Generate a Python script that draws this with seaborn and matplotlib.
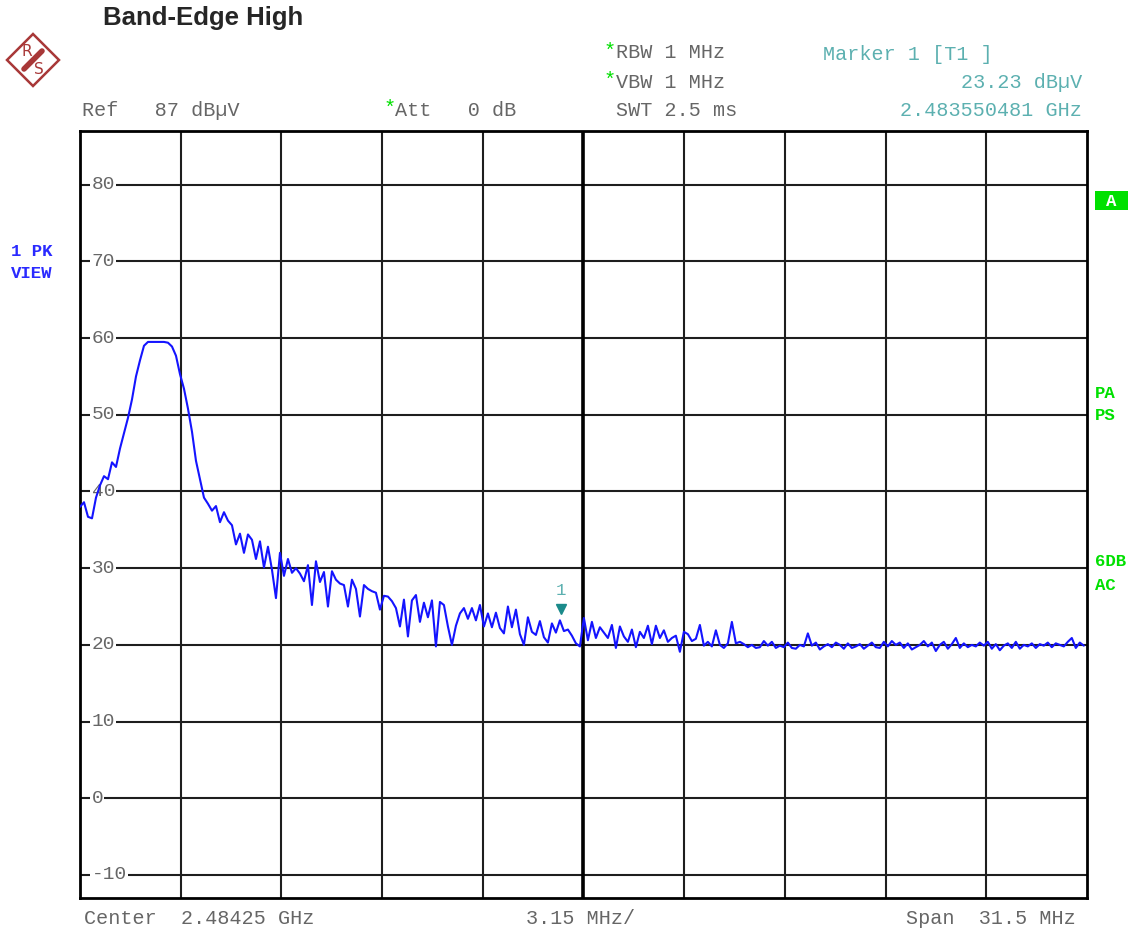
import numpy as np
import matplotlib
matplotlib.use("Agg")
import matplotlib.pyplot as plt
from matplotlib.patches import Polygon, Rectangle
import seaborn as sns

# sweep settings (MHz / dBuV)
CENTER_MHZ = 2484.25
SPAN_MHZ = 31.5
REF_LEVEL = 87
BOTTOM_LEVEL = -13
START_MHZ = 2468.5
STOP_MHZ = 2499.9

# peak trace, equally spaced from START to STOP
level = [
    38.0, 38.6, 36.7, 36.5, 39.2, 40.8, 42.0, 41.6, 43.8, 43.2,
    45.6, 47.6, 49.6, 52.0, 55.0, 57.1, 59.0, 59.5, 59.5, 59.5,
    59.5, 59.5, 59.4, 58.9, 57.7, 55.3, 53.4, 50.8, 47.8, 44.0,
    41.6, 39.2, 38.4, 37.5, 38.1, 36.0, 37.3, 36.2, 35.6, 33.1,
    34.5, 32.0, 34.4, 33.7, 31.2, 33.5, 30.1, 32.8, 29.8, 26.1,
    32.0, 29.0, 31.2, 29.4, 30.0, 29.3, 28.3, 30.4, 25.2, 30.9,
    28.2, 29.5, 25.0, 29.6, 28.5, 28.0, 27.8, 25.0, 28.5, 27.3,
    23.7, 27.8, 27.3, 27.0, 26.8, 24.6, 26.4, 26.3, 25.7, 24.8,
    22.4, 25.9, 21.1, 25.8, 26.5, 23.0, 25.5, 23.6, 25.8, 19.8,
    25.6, 25.2, 22.4, 20.0, 22.5, 24.1, 24.8, 23.4, 24.8, 23.2,
    25.2, 22.4, 24.1, 22.3, 24.2, 22.2, 21.5, 25.0, 22.3, 24.6,
    21.4, 20.0, 23.6, 21.7, 21.3, 23.1, 21.0, 20.3, 22.8, 21.6,
    23.2, 21.8, 22.0, 21.2, 20.2, 19.8, 23.5, 20.6, 23.0, 20.9,
    22.3, 21.6, 20.9, 22.6, 19.6, 22.4, 21.1, 20.4, 22.0, 19.7,
    21.7, 20.9, 22.5, 20.1, 22.5, 20.9, 21.9, 20.4, 20.9, 21.2,
    19.1, 21.7, 21.4, 20.5, 20.8, 22.6, 19.9, 20.4, 19.8, 21.9,
    20.0, 19.6, 20.2, 23.0, 20.2, 20.4, 20.1, 19.7, 20.0, 19.6,
    19.7, 20.5, 19.9, 20.4, 19.6, 19.9, 19.7, 20.3, 19.6, 19.5,
    20.0, 19.8, 21.5, 19.9, 20.3, 19.4, 19.8, 20.1, 19.7, 20.3,
    20.0, 19.5, 20.2, 19.6, 19.8, 20.1, 19.5, 19.9, 20.3, 19.7,
    19.6, 20.4, 19.8, 20.5, 20.0, 20.3, 19.6, 20.2, 19.4, 19.7,
    20.0, 20.5, 19.8, 20.3, 19.2, 20.0, 20.4, 19.5, 20.1, 20.9,
    19.6, 20.2, 19.7, 20.0, 19.8, 20.3, 19.9, 20.4, 19.5, 20.1,
    19.3, 19.9, 20.2, 19.6, 20.4, 19.5, 20.0, 19.8, 20.2, 19.6,
    20.1, 19.9, 20.3, 19.7, 20.2, 20.0, 19.8, 20.4, 20.9, 19.6,
    20.3, 19.9,
]
freq = np.linspace(START_MHZ, STOP_MHZ, len(level))

marker_freq = 2483.550481
marker_level = 23.23
y_ticks = [80, 70, 60, 50, 40, 30, 20, 10, 0, -10]

W, H = 1138, 931
GRAY = "#666666"
GREEN = "#00e000"
TEAL = "#5cb0b0"
MONO = "Liberation Mono"

sns.set_style("white")
plt.rcParams["font.family"] = ["DejaVu Sans"]

fig = plt.figure(figsize=(W / 100, H / 100), dpi=100)
ax = fig.add_axes([80 / W, (H - 898) / H, 1007 / W, 767 / H])


def fx(x, y):
    return x / W, 1 - y / H


sns.lineplot(x=freq, y=level, ax=ax, color="#1414ff", lw=1.5, zorder=5)

x0 = CENTER_MHZ - SPAN_MHZ / 2
x1 = CENTER_MHZ + SPAN_MHZ / 2
ax.set_xlim(x0, x1)
ax.set_ylim(BOTTOM_LEVEL, REF_LEVEL)
div = SPAN_MHZ / 10
ax.set_xticks([x0 + i * div for i in range(1, 10)])
ax.set_yticks(y_ticks)
ax.tick_params(length=0, labelbottom=False, labelleft=False)
ax.grid(True, color="#1e1e1e", lw=1.5)
ax.axvline(CENTER_MHZ, color="black", lw=2.6, zorder=1)
for s in ax.spines.values():
    s.set_color("black")
    s.set_linewidth(2.0)

# level labels sitting on the grid lines
for t in y_ticks:
    ax.text(x0 + 0.36, t, f"{t}", fontsize=14, family=MONO, color=GRAY,
            ha="left", va="center", zorder=3,
            bbox=dict(facecolor="white", edgecolor="none", pad=0.8))

# marker 1
ax.plot([marker_freq], [marker_level + 1.4], marker="v", ms=7,
        color="#1a8a8a", zorder=6)
ax.text(marker_freq, marker_level + 3.9, "1", fontsize=12.5, family=MONO,
        color=TEAL, ha="center", va="center", zorder=6)

# title and instrument annotations
fig.text(*fx(103, 18), "Band-Edge High", fontsize=18.5, fontweight="bold",
         family="Liberation Sans", ha="left", va="center")

hdr = dict(fontsize=14.5, family=MONO, va="center")
fig.text(*fx(82, 110), "Ref   87 dB\u00b5V", color=GRAY, ha="left", **hdr)
fig.text(*fx(384, 108), "*", color=GREEN, ha="left", **hdr)
fig.text(*fx(395, 110), "Att   0 dB", color=GRAY, ha="left", **hdr)
fig.text(*fx(603, 51), "*", color=GREEN, ha="left", **hdr)
fig.text(*fx(616, 53), "RBW 1 MHz", color=GRAY, ha="left", **hdr)
fig.text(*fx(603, 80), "*", color=GREEN, ha="left", **hdr)
fig.text(*fx(616, 82), "VBW 1 MHz", color=GRAY, ha="left", **hdr)
fig.text(*fx(616, 110), "SWT 2.5 ms", color=GRAY, ha="left", **hdr)
fig.text(*fx(823, 55), "Marker 1 [T1 ]", color=TEAL, ha="left", **hdr)
fig.text(*fx(1082, 82), f"{marker_level:.2f} dB\u00b5V", color=TEAL,
         ha="right", **hdr)
fig.text(*fx(1082, 110), f"{marker_freq / 1000:.9f} GHz", color=TEAL,
         ha="right", **hdr)
fig.text(*fx(84, 918), f"Center  {CENTER_MHZ / 1000:.5f} GHz", color=GRAY,
         ha="left", **hdr)
fig.text(*fx(526, 918), f"{div:.2f} MHz/", color=GRAY, ha="left", **hdr)
fig.text(*fx(1076, 918), f"Span  {SPAN_MHZ} MHz", color=GRAY, ha="right",
         **hdr)

side = dict(fontsize=12.5, family=MONO, fontweight="bold", va="center")
fig.text(*fx(11, 251), "1 PK", color="#2a2aff", ha="left", **side)
fig.text(*fx(11, 274), "VIEW", color="#2a2aff", ha="left", **side)
for lab, yy in [("PA", 393), ("PS", 416), ("6DB", 562), ("AC", 586)]:
    fig.text(*fx(1095, yy), lab, color=GREEN, ha="left", **side)
bx, by = fx(1095, 210)
fig.patches.append(Rectangle((bx, by), 33 / W, 19 / H, transform=fig.transFigure,
                             facecolor=GREEN, edgecolor="none"))
fig.text(*fx(1111, 201), "A", color="white", ha="center", **side)

# R&S logo
lc = "#a83838"
cx, cy, r = 33, 60, 26
dia = [fx(cx, cy - r), fx(cx + r, cy), fx(cx, cy + r), fx(cx - r, cy)]
fig.patches.append(Polygon(dia, closed=True, transform=fig.transFigure,
                           facecolor="white", edgecolor=lc, lw=1.8))
fig.lines.append(plt.Line2D([fx(cx + 9, cy - 9)[0], fx(cx - 9, cy + 9)[0]],
                            [fx(cx + 9, cy - 9)[1], fx(cx - 9, cy + 9)[1]],
                            transform=fig.transFigure, color=lc, lw=4))
fig.text(*fx(cx - 6, cy - 9), "R", color=lc, fontsize=11, ha="center",
         va="center")
fig.text(*fx(cx + 6, cy + 9), "S", color=lc, fontsize=11, ha="center",
         va="center")

fig.savefig("out.png", dpi=100)
